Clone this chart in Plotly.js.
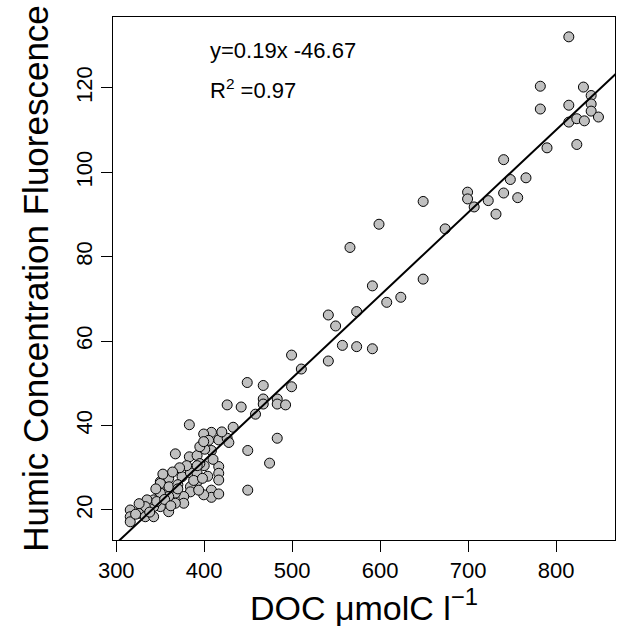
<!DOCTYPE html>
<html>
<head>
<meta charset="utf-8">
<script src="https://cdn.plot.ly/plotly-3.0.1.min.js"></script>
<style>html,body{margin:0;padding:0;background:#fff;}#chart{width:619px;height:628px;}</style>
</head>
<body>
<div id="chart"></div>
<script>
// DOC (µmolC l-1)
const docValues = [
814.5,782.1,831.1,839.9,782.1,814.5,839.9,839.9,848.2,814.5,823.6,832.2,789.7,823.6,740.4,748,765.8,699.4,699.4,740.4,
756.4,722.9,706.9,731.7,648.9,598.7,565.7,673.9,648.9,591.2,623.5,607.5,573.3,541.1,549.4,557.1,573.3,591.2,541.1,510.4,
499.3,499.3,467.1,467.1,483,483,492.5,467.1,448.9,426.1,442,458.3,432.9,383.1,483,474.3,449.5,449.5,416.5,426.1,
408.2,399.4,408.2,400.6,416.5,416.5,416.5,408.2,408.2,416.5,399.4,367.2,383.1,391.9,350.1,359.6,374.8,384.3,391.9,391.9,
384.3,384.3,376.7,376.7,367.2,359.6,359.6,350.1,359.6,350.1,342.5,342.5,335,333,325.4,315.9,315.9,315.9,333,342.5,
367.2,393.7,350.1,360,370,400,404,395,380,372,364,395,405,326,322,338,346,355,362,370,
388,398,410,428,420,392,353,345,399.4
];
// Humic concentration fluorescence
const humicValues = [
132.1,120.4,120.2,118.2,115.0,115.9,116.2,114.5,113.1,111.9,112.7,112.2,105.8,106.6,103.0,98.3,98.7,95.3,93.7,95.1,
94.0,93.3,91.8,90.1,93.1,87.7,82.2,86.6,74.7,73.1,70.4,69.2,67.0,66.2,63.6,59.0,58.7,58.2,55.3,53.4,
56.7,49.2,49.5,46.3,46.3,45.1,44.9,45.1,50.2,44.9,44.4,42.7,39.6,40.2,37.0,31.1,34.1,24.7,36.6,37.0,
38.4,38.0,34.1,34.4,30.3,28.7,27.1,24.7,23.0,23.8,23.6,33.3,32.6,32.9,26.7,27.5,27.9,28.8,28.7,26.7,
25.5,24.3,23.2,21.6,24.0,24.7,23.2,24.0,19.6,20.8,20.8,22.4,22.4,20.8,19.2,20.0,18.4,17.2,18.4,18.4,
21.6,24.7,26.3,25.5,26.0,30.5,28.0,31.0,30.5,30.0,29.0,35.0,36.5,21.5,19.0,19.5,22.0,22.5,21.0,25.0,
27.0,27.5,32.0,36.0,38.5,30.5,28.5,25.0,36.2
];
// Fitted regression line
const fitSlope = 0.1959;
const fitIntercept = -46.67;
const fitX = [290, 880];
const fitY = fitX.map(x => fitSlope * x + fitIntercept);

const xTicks = [300, 400, 500, 600, 700, 800];
const yTicks = [20, 40, 60, 80, 100, 120];
const eqLabel = "y=0.19x -46.67";
const r2Label = "R<sup>2</sup> =0.97";

const FONT = "Liberation Sans, Arial, sans-serif";

const traces = [
  {
    x: docValues, y: humicValues, type: "scatter", mode: "markers",
    marker: {size: 10, color: "#c0c0c0", line: {color: "#000", width: 1}},
    hoverinfo: "x+y"
  },
  {
    x: fitX, y: fitY, type: "scatter", mode: "lines",
    line: {color: "#000", width: 2}, hoverinfo: "skip"
  }
];

const layout = {
  width: 619, height: 628,
  margin: {l: 113, r: 4, t: 17, b: 88},
  showlegend: false,
  paper_bgcolor: "#fff", plot_bgcolor: "#fff",
  font: {family: FONT, color: "#000"},
  xaxis: {
    range: [296.3, 867], tickvals: xTicks, ticktext: xTicks.map(String),
    showgrid: false, zeroline: false,
    showline: true, mirror: true, linecolor: "#000", linewidth: 1,
    ticks: "outside", ticklen: 11, tickcolor: "#000", tickwidth: 1,
    tickfont: {size: 22, family: FONT},
    title: {text: "DOC μmolC l<sup>−1</sup>", font: {size: 34, family: FONT}, standoff: 2}
  },
  yaxis: {
    range: [12.89, 136.8], tickvals: yTicks, ticktext: yTicks.map(String),
    showgrid: false, zeroline: false,
    showline: true, mirror: true, linecolor: "#000", linewidth: 1,
    ticks: "outside", ticklen: 11, tickcolor: "#000", tickwidth: 1,
    tickangle: -90,
    tickfont: {size: 22, family: FONT},
    title: {text: "Humic Concentration Fluorescence", font: {size: 35, family: FONT}, standoff: 12}
  },
  annotations: [
    {xref: "paper", yref: "paper", x: 0.19, y: 0.935, xanchor: "left", yanchor: "middle",
     text: eqLabel, showarrow: false, font: {size: 22, family: FONT}},
    {xref: "paper", yref: "paper", x: 0.19, y: 0.863, xanchor: "left", yanchor: "middle",
     text: r2Label, showarrow: false, font: {size: 22, family: FONT}}
  ]
};

Plotly.newPlot("chart", traces, layout, {displayModeBar: false, staticPlot: true});
</script>
</body>
</html>
